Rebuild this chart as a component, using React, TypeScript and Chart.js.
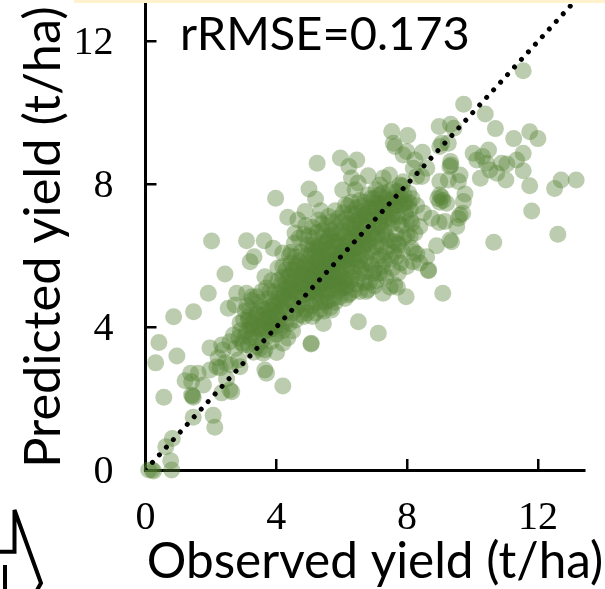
import React, { useEffect, useRef } from "react";
import { Chart, registerables } from "chart.js";

Chart.register(...registerables);

type Pt = [number, number];

const xTicks = [0, 4, 8, 12];
const yTicks = [0, 4, 8, 12];
const xTitle = "Observed yield (t/ha)";
const yTitle = "Predicted yield (t/ha)";
const metric = "rRMSE=0.173";
const oneToOne: Pt[] = [[0, 0], [13.05, 13.05]];

const originPoints: Pt[] = [[0.1, 0], [0.2, 0], [0.25, -0.03], [0.8, 0], [0.77, 0.26], [0.62, 0.65], [0.82, 0.88], [1.46, 1.48], [2.07, 1.53], [2.12, 1.2], [0.56, 2.04], [0.31, 3.0], [0.41, 3.57], [0.96, 3.19], [0.86, 4.29], [1.47, 4.43], [1.92, 4.95]];

const lowCluster: Pt[] = [[1.21, 2.5], [1.38, 2.71], [1.61, 2.71], [1.41, 2.47], [1.77, 2.38], [1.41, 2.1], [1.46, 2.04], [1.44, 2.07], [1.97, 2.8], [1.97, 3.42], [2.37, 3.36], [2.22, 3.14], [2.18, 2.89], [2.28, 2.86], [2.48, 2.55], [2.33, 2.16], [2.58, 2.24], [2.64, 2.19], [2.58, 3.59], [2.33, 3.5], [2.84, 3.08], [2.89, 2.89], [2.69, 3.78], [3.14, 3.5], [3.6, 3.27], [4.01, 3.29], [3.4, 3.45], [3.65, 3.36], [4.2, 2.35], [3.65, 2.8], [3.7, 2.71], [2.53, 4.53], [2.74, 4.62], [2.89, 4.12], [2.75, 3.4], [2.45, 3.0], [2.6, 2.95], [2.95, 3.55]];

const upperLeft: Pt[] = [[3.98, 7.61], [2.02, 6.41], [3.09, 6.42], [3.63, 6.42], [3.91, 6.21], [3.32, 5.97], [3.2, 5.83], [2.43, 5.49], [3.65, 5.41], [4.35, 7.08], [4.66, 7.0], [4.57, 6.64], [4.2, 6.08], [4.57, 5.97], [4.05, 5.66], [4.2, 5.41], [2.79, 4.95], [3.09, 4.95], [3.25, 4.85], [5.25, 8.59], [5.96, 8.74], [6.46, 8.68], [6.22, 8.5], [6.81, 8.24], [7.46, 8.26], [7.27, 8.18], [7.17, 7.98], [6.3, 8.18], [6.5, 8.04], [6.41, 7.84], [6.03, 7.84], [5.0, 7.87], [5.2, 7.59], [5.36, 7.26], [4.88, 7.24], [6.12, 7.42], [5.8, 7.26]];

const upperBand: Pt[] = [[7.53, 9.48], [8.02, 9.37], [7.58, 9.15], [7.63, 9.06], [7.88, 8.82], [7.99, 8.92], [8.47, 8.9], [8.24, 8.68], [8.19, 8.45], [8.6, 8.45], [8.45, 8.22], [8.29, 8.22], [7.88, 8.07], [7.78, 7.98], [8.98, 9.62], [9.33, 9.68], [9.43, 9.57], [9.06, 9.15], [9.0, 9.06], [9.26, 9.15], [9.33, 8.64], [9.34, 8.54], [9.31, 8.5], [9.62, 8.26], [9.57, 8.08], [9.26, 8.12], [9.0, 8.08], [9.77, 7.73], [9.72, 7.52], [9.0, 7.7], [9.06, 7.64], [8.94, 7.6], [9.0, 7.5], [9.1, 7.55], [9.21, 7.47], [9.62, 7.14], [9.7, 7.19], [9.57, 7.05], [9.52, 6.82], [9.31, 6.44], [9.36, 6.39], [8.9, 6.28], [8.98, 6.93], [8.75, 7.05], [9.16, 6.96]];

const lowerRight: Pt[] = [[8.65, 5.58], [8.66, 5.6], [8.18, 5.83], [8.6, 5.97], [8.39, 5.8], [8.14, 6.21], [8.22, 6.1], [8.3, 6.05], [7.73, 5.52], [7.27, 5.52], [7.99, 5.7], [7.68, 5.97], [8.24, 6.64], [8.09, 6.54], [8.39, 6.82], [8.5, 7.2], [8.3, 7.4], [9.09, 4.95], [7.27, 4.95], [7.48, 5.12], [7.7, 5.12], [7.97, 4.85], [7.62, 5.18], [6.51, 4.15], [7.12, 3.83], [5.06, 3.53], [5.07, 3.55], [5.69, 4.48], [5.44, 4.1]];

const farRight: Pt[] = [[11.55, 11.18], [9.73, 10.24], [10.39, 9.97], [10.7, 9.56], [11.26, 9.28], [11.75, 9.47], [12.0, 9.28], [10.02, 8.87], [10.49, 8.96], [11.55, 8.87], [10.13, 8.68], [10.31, 8.78], [10.43, 8.59], [10.53, 8.4], [10.89, 8.59], [11.05, 8.57], [10.74, 8.31], [11.02, 8.12], [11.35, 8.68], [11.55, 8.38], [10.24, 8.17], [11.75, 7.96], [12.51, 7.88], [12.71, 8.12], [13.17, 8.12], [11.81, 7.25], [12.61, 6.6], [10.65, 6.38]];

const coreLow: Pt[] = [[3.0, 4.2], [3.1, 3.9], [3.2, 4.5], [3.3, 4.1], [3.35, 3.7], [3.4, 4.4], [3.45, 4.0], [3.5, 4.7], [3.55, 3.6], [3.6, 4.2], [3.65, 4.5], [3.7, 3.9], [3.75, 4.8], [3.8, 4.3], [3.85, 3.6], [3.9, 4.1], [3.9, 4.6], [3.95, 5.0], [4.0, 4.4], [4.0, 3.8], [4.05, 4.8], [4.1, 4.2], [4.15, 5.2], [4.2, 4.6], [4.2, 3.9], [4.25, 4.9], [4.3, 4.4], [4.35, 5.4], [4.4, 5.0], [4.4, 4.1], [4.45, 4.7], [4.5, 5.3], [4.5, 4.4], [4.55, 5.6], [4.6, 5.0], [4.6, 4.2], [3.3, 3.3], [3.5, 3.4], [3.0, 3.5], [3.2, 3.7], [2.9, 3.9], [3.1, 4.6], [3.4, 4.85], [3.7, 5.1], [3.15, 4.3], [3.6, 4.0], [3.85, 4.45], [4.1, 4.7], [4.3, 5.1], [4.15, 4.5], [4.45, 5.15], [3.95, 4.25]];

const coreMid: Pt[] = [[4.65, 5.7], [4.7, 4.6], [4.7, 5.2], [4.75, 6.1], [4.8, 4.9], [4.8, 5.5], [4.85, 4.3], [4.9, 5.8], [4.9, 5.1], [4.95, 6.3], [5.0, 4.7], [5.0, 5.4], [5.05, 6.0], [5.1, 5.0], [5.1, 5.7], [5.1, 4.3], [5.15, 6.5], [5.2, 5.3], [5.2, 4.7], [5.25, 5.9], [5.3, 6.2], [5.3, 5.1], [5.35, 5.6], [5.35, 4.5], [5.4, 6.7], [5.4, 4.9], [5.45, 5.4], [5.5, 6.0], [5.5, 5.2], [5.5, 4.7], [5.55, 6.4], [5.6, 5.7], [5.6, 5.0], [5.65, 6.1], [5.7, 5.5], [5.7, 6.7], [5.75, 4.8], [5.8, 5.9], [5.8, 5.3], [5.85, 6.4], [5.9, 5.7], [5.9, 5.0], [5.95, 6.1], [6.0, 5.4], [6.0, 6.7], [6.05, 5.85], [6.1, 5.1], [6.1, 6.3], [6.15, 5.6], [6.2, 6.9], [6.2, 6.0], [6.2, 4.9], [4.75, 5.35], [4.95, 5.65], [5.15, 5.5], [5.3, 5.85], [5.45, 5.75], [5.55, 5.45], [5.75, 5.75], [5.85, 5.55], [6.0, 6.05], [4.6, 5.4], [5.0, 6.15], [5.2, 6.1], [5.4, 6.3], [5.6, 6.5], [5.8, 6.6], [5.65, 5.3], [5.4, 5.2], [5.2, 4.95], [4.9, 4.5], [5.95, 5.25]];

const coreHigh: Pt[] = [[6.25, 6.5], [6.3, 5.4], [6.3, 7.2], [6.35, 5.9], [6.4, 6.75], [6.4, 6.2], [6.45, 5.2], [6.5, 5.7], [6.5, 7.0], [6.55, 6.4], [6.6, 7.4], [6.6, 6.0], [6.65, 5.5], [6.7, 6.8], [6.7, 6.3], [6.75, 5.0], [6.8, 7.2], [6.8, 5.8], [6.85, 6.6], [6.9, 7.6], [6.9, 6.1], [6.95, 5.5], [7.0, 7.0], [7.0, 6.5], [7.05, 7.35], [7.1, 5.9], [7.1, 6.8], [7.15, 7.7], [7.2, 6.3], [7.2, 7.1], [7.25, 5.7], [7.3, 7.45], [7.3, 6.7], [7.35, 6.1], [7.4, 7.0], [7.45, 7.8], [7.45, 6.45], [7.5, 7.3], [7.5, 5.9], [7.55, 6.9], [7.6, 7.6], [7.65, 6.6], [7.7, 7.1], [7.75, 6.3], [7.8, 7.4], [7.85, 6.85], [7.9, 7.7], [7.95, 7.2], [8.0, 6.6], [8.05, 7.5], [8.1, 7.0], [6.35, 6.85], [6.55, 7.1], [6.75, 7.05], [6.95, 7.3], [7.15, 6.95], [7.35, 7.2], [7.55, 7.15], [6.45, 6.55], [6.65, 6.5], [6.85, 6.35], [7.05, 6.25], [7.25, 6.55], [6.3, 6.15], [6.5, 6.05], [7.6, 6.4], [6.85, 5.25], [7.05, 5.3]];

const coreDense: Pt[] = [[3.6, 4.35], [3.75, 4.55], [3.85, 4.2], [3.95, 4.7], [4.05, 4.35], [4.1, 4.95], [4.2, 5.0], [4.25, 4.55], [4.3, 5.25], [4.35, 4.8], [4.4, 5.45], [4.45, 4.95], [4.5, 5.6], [4.5, 5.05], [4.55, 4.65], [4.6, 5.75], [4.65, 5.15], [4.7, 4.85], [4.7, 5.85], [4.75, 5.5], [4.8, 5.1], [4.85, 5.7], [4.85, 5.3], [4.9, 6.0], [4.95, 4.95], [4.95, 5.45], [5.0, 5.75], [5.05, 5.2], [5.05, 5.55], [5.1, 6.2], [5.1, 5.35], [5.15, 5.05], [5.15, 5.8], [5.2, 5.6], [5.25, 5.15], [5.25, 6.25], [5.3, 5.45], [5.3, 5.7], [5.35, 6.0], [5.35, 5.2], [5.4, 5.55], [5.4, 5.85], [5.45, 6.15], [5.45, 5.05], [5.5, 5.6], [5.5, 6.35], [5.55, 5.85], [5.55, 5.25], [5.6, 6.2], [5.6, 5.55], [5.65, 5.9], [5.65, 6.55], [5.7, 5.2], [5.7, 5.85], [5.75, 6.25], [5.75, 5.5], [5.8, 6.05], [5.85, 5.8], [5.85, 5.15], [5.9, 6.3], [5.9, 5.45], [5.95, 5.9], [5.95, 6.6], [6.0, 5.65], [6.0, 6.3], [6.05, 6.15], [6.05, 5.3], [6.1, 5.85], [6.1, 6.55], [6.15, 6.15], [6.15, 5.35], [6.2, 6.4], [6.2, 5.75], [6.25, 6.0], [6.25, 6.75], [6.3, 5.7], [6.3, 6.4], [6.35, 6.2], [6.4, 5.9], [6.4, 6.95], [6.45, 6.35], [6.5, 6.7], [6.5, 6.25], [6.55, 5.85], [6.6, 6.6], [6.6, 6.95], [6.65, 6.2], [6.7, 7.15], [6.7, 6.55], [6.75, 5.95], [6.8, 6.8], [6.8, 6.4], [6.85, 7.0], [6.9, 6.65], [6.95, 6.2], [6.95, 7.1], [7.0, 6.75], [7.05, 7.5], [7.1, 6.6], [7.1, 7.2], [7.2, 6.85], [7.2, 7.4], [7.3, 7.0], [7.35, 6.55], [7.4, 7.55], [7.5, 7.05], [7.6, 7.35], [7.7, 7.55], [7.75, 6.9], [7.9, 7.45], [4.6, 4.9], [4.8, 5.25], [5.0, 5.1], [5.2, 5.4], [5.5, 5.45], [5.7, 5.65], [5.9, 5.95], [6.1, 6.0], [6.3, 6.6], [4.0, 4.6], [4.2, 4.8], [3.8, 4.05], [3.5, 3.95], [3.3, 3.85], [3.2, 4.05]];

const coreUpperEdge: Pt[] = [[4.45, 6.1], [4.55, 6.35], [4.7, 6.5], [4.85, 6.6], [4.9, 6.85], [5.0, 6.55], [5.1, 6.8], [5.15, 6.3], [5.25, 6.65], [5.3, 7.0], [5.4, 6.9], [5.45, 6.55], [5.55, 6.85], [5.6, 7.1], [5.7, 6.95], [5.75, 6.4], [5.85, 6.8], [5.9, 7.05], [6.0, 6.95], [6.05, 7.2], [6.15, 7.05], [6.2, 7.4], [6.3, 7.5], [6.4, 7.15], [6.45, 7.35], [6.55, 7.55], [6.65, 7.25], [6.7, 7.5], [6.8, 7.7], [6.9, 7.35], [7.0, 7.6], [7.05, 7.85], [7.15, 7.45], [7.25, 7.75], [7.35, 7.6], [7.45, 7.45], [7.55, 7.85], [7.65, 7.4], [7.7, 7.8], [7.8, 7.65], [7.85, 7.95], [7.95, 7.5], [8.05, 7.75], [8.1, 7.3], [8.15, 7.6], [8.0, 7.05], [8.15, 6.9]];

const coreLowerEdge: Pt[] = [[4.6, 4.5], [4.75, 4.35], [4.8, 4.65], [4.95, 4.4], [5.0, 4.95], [5.1, 4.6], [5.2, 4.4], [5.25, 4.85], [5.35, 4.7], [5.45, 4.45], [5.5, 4.95], [5.6, 4.75], [5.65, 4.55], [5.75, 5.05], [5.8, 4.7], [5.9, 5.2], [5.95, 4.85], [6.0, 5.1], [6.1, 4.8], [6.15, 5.15], [6.25, 5.3], [6.25, 4.95], [6.35, 5.55], [6.4, 5.05], [6.5, 5.35], [6.55, 5.0], [6.6, 5.65], [6.7, 5.25], [6.75, 5.55], [6.8, 5.05], [6.9, 5.75], [7.0, 5.6], [7.0, 5.15], [7.15, 5.5], [7.2, 6.0], [7.3, 5.85], [7.35, 5.4], [7.4, 6.25], [7.55, 5.65], [7.6, 6.1], [7.7, 6.35], [7.8, 5.8], [7.85, 6.15], [7.9, 6.5]];

const coreLowerLeft: Pt[] = [[3.05, 3.75], [3.15, 4.2], [3.25, 3.95], [3.35, 4.25], [3.45, 4.35], [3.55, 3.85], [3.55, 4.55], [3.65, 4.15], [3.75, 3.75], [3.75, 4.25], [3.85, 3.95], [3.95, 3.95], [4.05, 4.05], [4.15, 4.0], [4.3, 4.15], [4.35, 3.7], [4.5, 3.9], [4.2, 3.55], [2.85, 3.7], [3.05, 4.45], [3.25, 4.75], [3.55, 5.0], [3.8, 5.0], [4.05, 5.3], [4.2, 5.7], [4.3, 5.6], [4.45, 5.8], [4.4, 6.0], [3.85, 5.3]];

const allPoints: Pt[] = [...originPoints, ...lowCluster, ...upperLeft, ...upperBand, ...lowerRight, ...farRight, ...coreLow, ...coreMid, ...coreHigh, ...coreDense, ...coreUpperEdge, ...coreLowerEdge, ...coreLowerLeft];

function noPadding(s: any) {
  s.paddingTop = 0;
  s.paddingBottom = 0;
  s.paddingLeft = 0;
  s.paddingRight = 0;
}

export default function App() {
  const ref = useRef<HTMLCanvasElement>(null);

  useEffect(() => {
    document.body.style.margin = "0";
    document.body.style.overflow = "hidden";
    const textLabels = {
      id: "textLabels",
      beforeDraw(chart: any) {
        for (const item of chart.scales.y.getLabelItems()) {
          item.options.translation[1] += 2;
        }
      },
      afterDraw(chart: any) {
        const c = chart.ctx;
        c.save();
        c.fillStyle = "#000";
        c.textBaseline = "alphabetic";
        c.textAlign = "left";
        c.font = "47px Lato";
        c.fillText(metric, 180, 50);
        c.textAlign = "center";
        c.font = "49.5px Lato";
        c.fillText(xTitle, 375, 578);
        c.restore();
      },
    };
    const chart = new Chart(ref.current!, {
      type: "scatter",
      data: {
        datasets: [
          {
            type: "line",
            label: "1:1",
            data: oneToOne.map(([x, y]) => ({ x, y })),
            borderColor: "#000",
            borderWidth: 5,
            borderDash: [0.01, 10.3],
            borderCapStyle: "round",
            pointRadius: 0,
            fill: false,
          },
          {
            label: "Yield",
            data: allPoints.map(([x, y]) => ({ x, y })),
            backgroundColor: "rgba(84,130,53,0.4)",
            borderWidth: 0,
            pointRadius: 8.5,
            clip: false,
          },
        ],
      } as any,
      plugins: [textLabels],
      options: {
        animation: false,
        responsive: false,
        layout: { autoPadding: false, padding: { top: 4, right: 21, left: 0, bottom: 0 } },
        plugins: { legend: { display: false }, tooltip: { enabled: false } },
        scales: {
          x: {
            type: "linear",
            min: 0,
            max: 13.41,
            afterFit(s: any) { s.height = 119; noPadding(s); },
            afterBuildTicks(s: any) { s.ticks = xTicks.map((value) => ({ value })); },
            border: { color: "#000", width: 3 },
            grid: { drawOnChartArea: false, color: "#000", lineWidth: 2.5, tickLength: -11 },
            ticks: {
              includeBounds: false,
              autoSkip: false,
              maxRotation: 0,
              padding: 35,
              color: "#000",
              font: { family: "Liberation Serif", size: 40 },
            },
          },
          y: {
            type: "linear",
            min: 0,
            max: 13.05,
            afterFit(s: any) { s.width = 145.5; noPadding(s); },
            afterBuildTicks(s: any) { s.ticks = yTicks.map((value) => ({ value })); },
            border: { color: "#000", width: 3 },
            grid: { drawOnChartArea: false, color: "#000", lineWidth: 2.5, tickLength: -11 },
            ticks: {
              includeBounds: false,
              autoSkip: false,
              padding: 43,
              color: "#000",
              font: { family: "Liberation Serif", size: 40 },
            },
            title: { display: true, text: yTitle, color: "#000", font: { family: "Lato", size: 50.5 }, padding: { top: 13, bottom: 0 } },
          },
        },
      } as any,
    });
    return () => chart.destroy();
  }, []);

  return (
    <div style={{ position: "relative", width: 605, height: 589, overflow: "hidden", background: "#fff" }}>
      <div style={{ position: "absolute", left: 74, top: 0, width: 531, height: 3, background: "#FFF2CC" }} />
      <svg width={605} height={589} style={{ position: "absolute", left: 0, top: 0 }}>
        <path d="M0 551.7 H14.5 V510 L41 583 L36 592 M5 565 V589" fill="none" stroke="#000" strokeWidth={4} />
      </svg>
      <canvas ref={ref} width={605} height={589} style={{ position: "absolute", left: 0, top: 0, display: "block" }} />
    </div>
  );
}
